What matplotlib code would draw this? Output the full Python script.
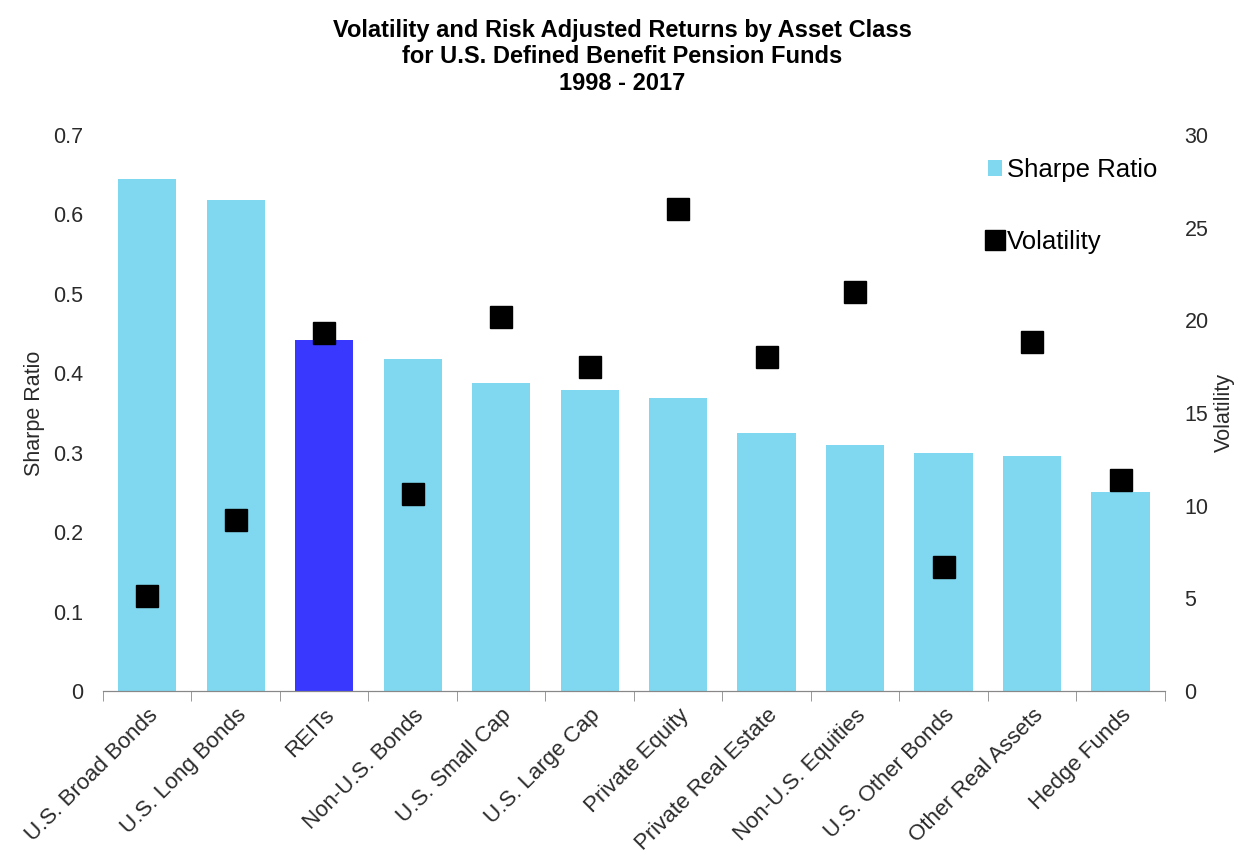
import numpy as np
import matplotlib.pyplot as plt

plt.rcParams['font.family'] = ['Liberation Sans', 'DejaVu Sans']

categories = ['U.S. Broad Bonds', 'U.S. Long Bonds', 'REITs', 'Non-U.S. Bonds',
              'U.S. Small Cap', 'U.S. Large Cap', 'Private Equity',
              'Private Real Estate', 'Non-U.S. Equities', 'U.S. Other Bonds',
              'Other Real Assets', 'Hedge Funds']
sharpe = [0.645, 0.618, 0.442, 0.418, 0.388, 0.379, 0.369, 0.325, 0.309, 0.300, 0.296, 0.251]
volatility = [5.1, 9.2, 19.3, 10.6, 20.2, 17.5, 26.0, 18.0, 21.5, 6.7, 18.8, 11.4]
highlight = 'REITs'

light_blue = '#80D8F0'
dark_blue = '#3838FF'
bar_colors = [dark_blue if c == highlight else light_blue for c in categories]

fig = plt.figure(figsize=(12.45, 8.59), dpi=100, facecolor='white')
ax = fig.add_axes([0.0827, 0.1956, 0.8530, 0.6474])
ax2 = ax.twinx()

x = np.arange(len(categories))
bars = ax.bar(x, sharpe, width=0.66, color=bar_colors, label='Sharpe Ratio', zorder=2)
vol, = ax2.plot(x, volatility, 's', color='black', markersize=16.5, label='Volatility', zorder=3)

ax.set_xlim(-0.5, len(categories) - 0.5)
ax.set_ylim(0, 0.7)
ax2.set_ylim(0, 30)
ax.set_yticks(np.arange(0, 0.71, 0.1))
ax.set_yticklabels(['0', '0.1', '0.2', '0.3', '0.4', '0.5', '0.6', '0.7'])
ax2.set_yticks(np.arange(0, 31, 5))

for a in (ax, ax2):
    for s in ('top', 'left', 'right'):
        a.spines[s].set_visible(False)
    a.spines['bottom'].set_color('#888888')
    a.tick_params(axis='y', length=0, labelsize=15.5, colors='#2a2a2a', pad=14)

ax.set_xticks(x)
ax.set_xticklabels(categories, rotation=45, ha='right', rotation_mode='anchor',
                   fontsize=16, color='#2a2a2a')
ax.tick_params(axis='x', length=0, pad=10)
ax.set_xticks(np.arange(-0.5, len(categories), 1), minor=True)
ax.tick_params(axis='x', which='minor', length=7, color='#888888', direction='out')

ax.set_ylabel('Sharpe Ratio', fontsize=15.5, color='#2a2a2a', labelpad=6)
ax2.set_ylabel('Volatility', fontsize=15.5, color='#2a2a2a', labelpad=4)

fig.suptitle('Volatility and Risk Adjusted Returns by Asset Class\n'
             'for U.S. Defined Benefit Pension Funds\n1998 - 2017',
             fontsize=17, fontweight='bold', y=0.978, linespacing=1.2)

ax2.legend([bars, vol], ['Sharpe Ratio', 'Volatility'], loc='upper right',
           bbox_to_anchor=(1.015, 1.0), frameon=False, fontsize=18.5,
           handlelength=0.55, handleheight=0.55, handletextpad=0.2,
           labelspacing=1.85, markerscale=0.85)

fig.savefig('out.png', dpi=100)
